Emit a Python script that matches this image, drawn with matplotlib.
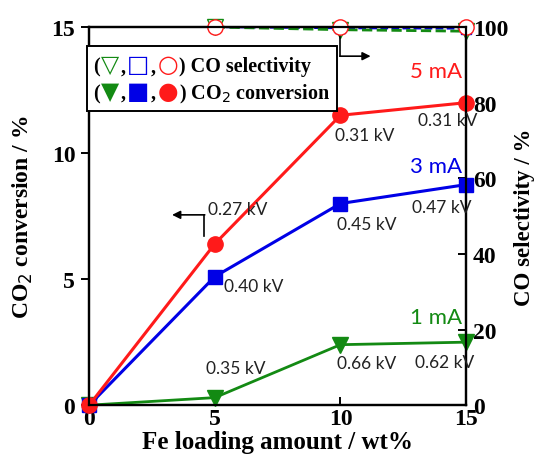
"""Fe loading vs CO2 conversion and CO selectivity (plasma, 1/3/5 mA)."""

import matplotlib
matplotlib.use("Agg")
import matplotlib.pyplot as plt
from matplotlib.offsetbox import TextArea, HPacker, VPacker, AnchoredOffsetbox

fe_loading = [0, 5, 10, 15]
conv_1ma = [0, 0.3, 2.4, 2.5]
conv_3ma = [0, 5.1, 8.0, 8.75]
conv_5ma = [0, 6.4, 11.5, 12.0]

sel_loading = [5, 10, 15]
sel_1ma = [100, 99.3, 98.9]
sel_3ma = [100, 99.7, 99.6]
sel_5ma = [100, 100, 100]

kv_1ma = ["", "0.35 kV", "0.66 kV", "0.62 kV"]
kv_3ma = ["", "0.40 kV", "0.45 kV", "0.47 kV"]
kv_5ma = ["", "0.27 kV", "0.31 kV", "0.31 kV"]

GREEN = "#138a13"
BLUE = "#0000e6"
RED = "#ff1a1a"

SERIF = "Liberation Serif"
SANS = "Lato"

fig = plt.figure(figsize=(5.37, 4.6), dpi=100)
ax = fig.add_axes([0.166, 0.117, 0.702, 0.822])
ax2 = ax.twinx()

# selectivity (right axis), open markers, dashed
ax2.plot(sel_loading, sel_3ma, color=BLUE, ls="--", lw=1.5, marker="s",
         ms=7, mfc="white", mec=BLUE, mew=1, zorder=1, clip_on=False)
ax2.plot(sel_loading, sel_1ma, color=GREEN, ls="--", lw=2, marker="v",
         ms=11, mfc="white", mec=GREEN, mew=1, zorder=2, clip_on=False)
ax2.plot(sel_loading, sel_5ma, color=RED, ls="--", lw=1.2, marker="o",
         ms=11, mfc="white", mec=RED, mew=1, zorder=3, clip_on=False)

# conversion (left axis), filled markers
ax.plot(fe_loading, conv_1ma, color=GREEN, lw=2, marker="v", ms=11,
        clip_on=False)
ax.plot(fe_loading, conv_3ma, color=BLUE, lw=2.2, marker="s", ms=10,
        clip_on=False)
ax.plot(fe_loading, conv_5ma, color=RED, lw=2.2, marker="o", ms=11,
        clip_on=False)

ax.set_zorder(ax2.get_zorder() + 1)
ax.patch.set_visible(False)

ax.set_xlim(0, 15)
ax.set_ylim(0, 15)
ax2.set_ylim(0, 100)
ax.set_xticks([0, 5, 10, 15])
ax.set_yticks([0, 5, 10, 15])
ax2.set_yticks([0, 20, 40, 60, 80, 100])

for a in (ax, ax2):
    for s in a.spines.values():
        s.set_linewidth(1.6)
ax.tick_params(axis="y", direction="out", length=6, width=1.4, pad=4)
ax.tick_params(axis="x", direction="in", length=6, width=1.4, pad=2, top=False)
ax2.tick_params(axis="y", direction="in", length=6, width=1.4, pad=5)

for lab in ax.get_xticklabels() + ax.get_yticklabels() + ax2.get_yticklabels():
    lab.set_fontfamily(SERIF)
    lab.set_fontweight("bold")
    lab.set_fontsize(17)

ax.set_xlabel("Fe loading amount / wt%", fontfamily=SERIF, fontweight="bold",
              fontsize=18, labelpad=1)
ax.set_ylabel(r"CO$_2$ conversion / %", fontfamily=SERIF, fontweight="bold",
              fontsize=17, labelpad=12)
ax2.set_ylabel("CO selectivity / %", fontfamily=SERIF, fontweight="bold",
               fontsize=16.5, labelpad=4)

# current labels
ax.text(13.8, 13.25, "5 mA", color=RED, fontfamily=SANS, fontsize=16,
        ha="center", va="center")
ax.text(13.8, 9.5, "3 mA", color=BLUE, fontfamily=SANS, fontsize=16,
        ha="center", va="center")
ax.text(13.8, 3.5, "1 mA", color=GREEN, fontfamily=SANS, fontsize=16,
        ha="center", va="center")

# voltage labels
kv_pos = {
    "0.27 kV": (4.74, 7.8), "0.31 kV_10": (9.8, 10.7), "0.31 kV_15": (13.1, 11.3),
    "0.40 kV": (5.37, 4.72), "0.45 kV": (9.87, 7.18), "0.47 kV": (12.85, 7.86),
    "0.35 kV": (4.66, 1.47), "0.66 kV": (9.87, 1.67), "0.62 kV": (12.97, 1.7),
}
for labels in (kv_5ma, kv_3ma, kv_1ma):
    for i, lab in enumerate(labels):
        if not lab:
            continue
        key = lab if lab in kv_pos else f"{lab}_{fe_loading[i]}"
        x, y = kv_pos[key]
        ax.text(x, y, lab, fontfamily=SANS, fontsize=12.5, ha="left",
                va="center", color="#222222")

# axis-indicator arrows
ax.plot([4.58, 4.58], [6.7, 7.55], color="black", lw=1.2)
ax.annotate("", xy=(3.3, 7.55), xytext=(4.6, 7.55),
            arrowprops=dict(arrowstyle="-|>", color="black", lw=1.2,
                            mutation_scale=12, shrinkA=0, shrinkB=0))
ax2.plot([10, 10], [98.0, 92.3], color="black", lw=1.2)
ax2.annotate("", xy=(11.2, 92.3), xytext=(9.98, 92.3),
             arrowprops=dict(arrowstyle="-|>", color="black", lw=1.2,
                             mutation_scale=12, shrinkA=0, shrinkB=0))


# custom legend
def piece(s, color="black", size=14.5, family=SERIF, weight="bold"):
    return TextArea(s, textprops=dict(color=color, fontsize=size,
                                      fontfamily=family, fontweight=weight))


def sym(s, color):
    return piece(s, color, 17, "DejaVu Sans", "normal")


row1 = HPacker(children=[
    piece("("), sym("\u25bd", GREEN), piece(","), sym("\u25a1", BLUE),
    piece(","), sym("\u25cb", RED), piece(") CO selectivity"),
], pad=0, sep=1, align="baseline")
row2 = HPacker(children=[
    piece("("), sym("\u25bc", GREEN), piece(","), sym("\u25a0", BLUE),
    piece(","), sym("\u25cf", RED), piece(") CO$_2$ conversion"),
], pad=0, sep=1, align="baseline")
box = VPacker(children=[row1, row2], pad=0, sep=2, align="left")
leg = AnchoredOffsetbox(loc="upper left", child=box, pad=0.45, borderpad=0,
                        frameon=True, bbox_to_anchor=(87, 460 - 47),
                        bbox_transform=None)
leg.patch.set_linewidth(1.4)
leg.patch.set_edgecolor("black")
ax.add_artist(leg)

fig.savefig("out.png", dpi=100)
